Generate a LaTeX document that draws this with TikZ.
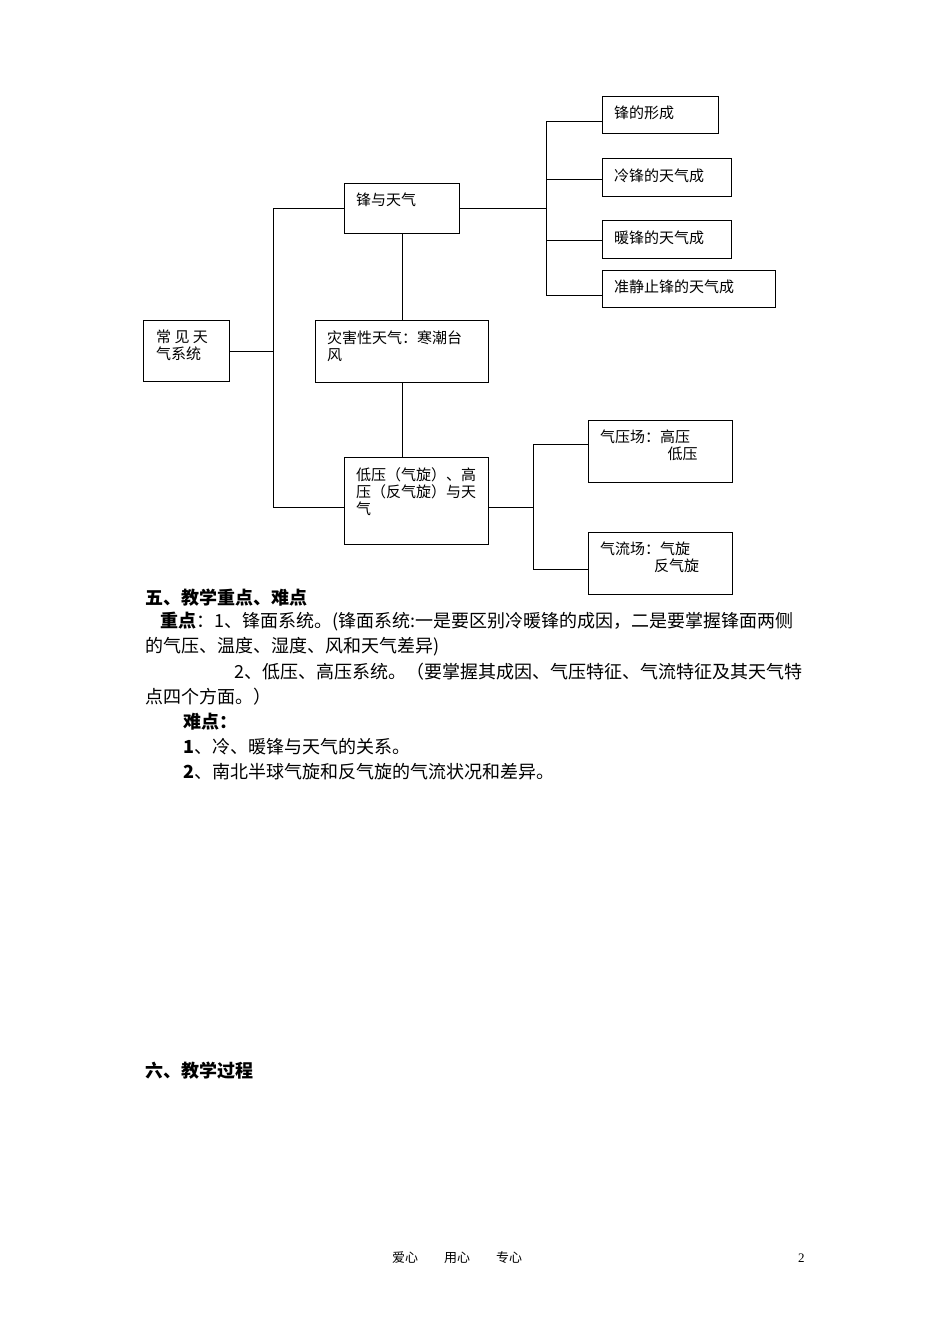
\documentclass[tikz,border=0pt]{standalone}
\usepackage{fontspec}
\setmainfont{Liberation Serif}
\newfontfamily\cjk{Noto Sans CJK SC}
\begin{document}
\begin{tikzpicture}[x=1pt,y=-1pt,
  bx/.style={draw,line width=0.8pt},
  ln/.style={line width=0.8pt},
  bt/.style={anchor=north west,inner sep=0pt,font=\cjk\fontsize{15}{17}\selectfont,align=left},
  tx/.style={anchor=west,inner sep=0pt,font=\cjk\fontsize{18}{20}\selectfont}]
\useasboundingbox[fill=white] (0,0) rectangle (950,1344);
% boxes
\draw[bx] (602,96) rectangle (718,133);
\draw[bx] (602,158) rectangle (731,196);
\draw[bx] (602,220) rectangle (731,258);
\draw[bx] (602,270) rectangle (775,307);
\draw[bx] (344,183) rectangle (459,233);
\draw[bx] (143,320) rectangle (229,381);
\draw[bx] (315,320) rectangle (488,382);
\draw[bx] (344,457) rectangle (488,544);
\draw[bx] (588,420) rectangle (732,482);
\draw[bx] (588,532) rectangle (732,594);
% texts
\node[bt] (t1) at (614,106) {锋的形成};
\node[bt] (t2) at (614,169) {冷锋的天气成};
\node[bt] (t3) at (614,231) {暖锋的天气成};
\node[bt] (t4) at (614,280) {准静止锋的天气成};
\node[bt] (t5) at (356,193) {锋与天气};
\node[bt] (t6) at (156,330) {常\ 见\ 天\\气系统};
\node[bt] (t7) at (327,331) {灾害性天气：寒潮台\\风};
\node[bt] (t8) at (356,467) {低压（气旋）、高\\压（反气旋）与天\\气};
\node[bt] (t9) at (600,430) {气压场：高压\\\hspace*{4.5em}低压};
\node[bt] (t10) at (600,542) {气流场：气旋\\\hspace*{3.6em}反气旋};
% connectors
\draw[ln] (229,351) -- (273,351);
\draw[ln] (273,208) -- (273,507);
\draw[ln] (273,208) -- (344,208);
\draw[ln] (273,507) -- (344,507);
\draw[ln] (459,208) -- (546,208);
\draw[ln] (546,121) -- (546,295);
\foreach \y in {121,179,240,295} \draw[ln] (546,\y) -- (602,\y);
\draw[ln] (402,233) -- (402,320);
\draw[ln] (402,382) -- (402,457);
\draw[ln] (488,507) -- (533,507);
\draw[ln] (533,444) -- (533,569);
\draw[ln] (533,444) -- (588,444);
\draw[ln] (533,569) -- (588,569);
% body text
\node[tx] (p1) at (145,598) {\bfseries 五、教学重点、难点};
\node[tx] (p2) at (160,622) {\textbf{重点}：1、锋面系统。(锋面系统:一是要区别冷暖锋的成因，二是要掌握锋面两侧};
\node[tx] (p3) at (145,647) {的气压、温度、湿度、风和天气差异)};
\node[tx] (p4) at (234,672) {2、低压、高压系统。（要掌握其成因、气压特征、气流特征及其天气特};
\node[tx] (p5) at (145,697) {点四个方面。）};
\node[tx] (p6) at (183,722) {\bfseries 难点：};
\node[tx] (p7) at (183,747) {\textbf{1}、冷、暖锋与天气的关系。};
\node[tx] (p8) at (183,772) {\textbf{2}、南北半球气旋和反气旋的气流状况和差异。};
\node[tx] (p9) at (145,1071) {\bfseries 六、教学过程};
\node[tx,font=\cjk\fontsize{13}{16}\selectfont] (f1) at (392,1258) {爱心\hspace{2em}用心\hspace{2em}专心};
\node[tx,font=\fontsize{13}{16}\selectfont] (f2) at (798,1258) {2};
\end{tikzpicture}
\end{document}
